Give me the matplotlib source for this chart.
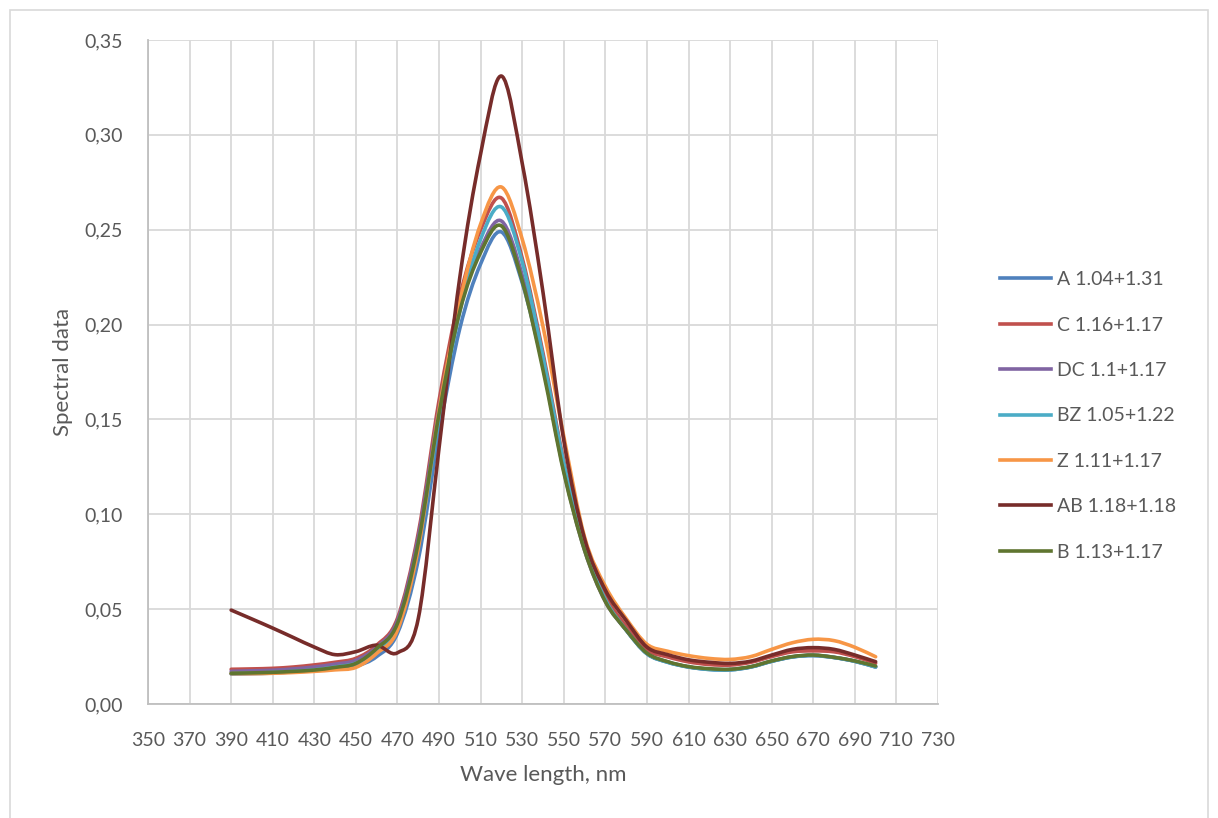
import matplotlib.pyplot as plt
import numpy as np
from matplotlib.path import Path
from matplotlib.patches import PathPatch, Rectangle
from matplotlib.lines import Line2D
from matplotlib.ticker import FuncFormatter

plt.rcParams['font.family'] = ['Lato', 'DejaVu Sans']

wavelength = list(range(390, 701, 10))

labels = ['A 1.04+1.31', 'C 1.16+1.17', 'DC 1.1+1.17', 'BZ 1.05+1.22',
          'Z 1.11+1.17', 'AB 1.18+1.18', 'B 1.13+1.17']
colors = ['#4F81BD', '#C0504D', '#8064A2', '#4BACC6', '#F79646', '#772C2A', '#5F7530']

a_vals = [0.0158, 0.0160, 0.0163, 0.0170, 0.0178, 0.0190, 0.0200, 0.0250, 0.0373, 0.076,
          0.143, 0.198, 0.232, 0.2488, 0.222, 0.178, 0.124, 0.082, 0.055, 0.039,
          0.0265, 0.0220, 0.0195, 0.0182, 0.0180, 0.0195, 0.0225, 0.0248, 0.0255, 0.0245,
          0.0225, 0.0195]
c_vals = [0.0183, 0.0185, 0.0188, 0.0195, 0.0206, 0.0220, 0.0241, 0.0310, 0.0452, 0.090,
          0.160, 0.215, 0.250, 0.2667, 0.235, 0.185, 0.128, 0.084, 0.057, 0.041,
          0.0285, 0.0248, 0.0222, 0.0208, 0.0205, 0.0220, 0.0250, 0.0275, 0.0280, 0.0275,
          0.0250, 0.0215]
dc_vals = [0.0172, 0.0175, 0.0178, 0.0185, 0.0195, 0.0210, 0.0230, 0.0300, 0.0440, 0.088,
           0.156, 0.209, 0.240, 0.2546, 0.226, 0.178, 0.123, 0.081, 0.054, 0.039,
           0.0266, 0.0222, 0.0196, 0.0184, 0.0182, 0.0196, 0.0226, 0.0249, 0.0257, 0.0246,
           0.0226, 0.0196]
bz_vals = [0.0160, 0.0163, 0.0166, 0.0172, 0.0180, 0.0195, 0.0215, 0.0280, 0.0410, 0.083,
           0.151, 0.207, 0.245, 0.2620, 0.233, 0.183, 0.127, 0.083, 0.055, 0.039,
           0.0265, 0.0220, 0.0195, 0.0182, 0.0180, 0.0195, 0.0225, 0.0248, 0.0256, 0.0245,
           0.0225, 0.0195]
z_vals = [0.0160, 0.0160, 0.0162, 0.0166, 0.0172, 0.0180, 0.0193, 0.0267, 0.0390, 0.082,
          0.155, 0.212, 0.253, 0.2725, 0.245, 0.199, 0.141, 0.088, 0.062, 0.045,
          0.0315, 0.0278, 0.0255, 0.0240, 0.0235, 0.0250, 0.0288, 0.0323, 0.0341, 0.0334,
          0.0299, 0.0249]
ab_vals = [0.0495, 0.0448, 0.0400, 0.0350, 0.0300, 0.0260, 0.0276, 0.0310, 0.0270, 0.045,
           0.135, 0.225, 0.290, 0.3310, 0.285, 0.217, 0.139, 0.087, 0.060, 0.044,
           0.0300, 0.0260, 0.0233, 0.0220, 0.0214, 0.0226, 0.0258, 0.0288, 0.0297, 0.0288,
           0.0258, 0.0223]
b_vals = [0.0162, 0.0164, 0.0167, 0.0172, 0.0179, 0.0193, 0.0214, 0.0293, 0.0425, 0.085,
          0.153, 0.207, 0.238, 0.2520, 0.223, 0.176, 0.122, 0.081, 0.054, 0.039,
          0.0268, 0.0223, 0.0197, 0.0186, 0.0183, 0.0197, 0.0227, 0.0250, 0.0258, 0.0246,
          0.0227, 0.0200]

series = [a_vals, c_vals, dc_vals, bz_vals, z_vals, ab_vals, b_vals]

x_ticks = list(range(350, 731, 20))
y_ticks = [0.0, 0.05, 0.10, 0.15, 0.20, 0.25, 0.30, 0.35]


def smooth_path(x, y):
    # Excel style smoothed line: bezier segments with catmull-rom tangents
    x = np.asarray(x, float)
    y = np.asarray(y, float)
    pts = np.column_stack([x, y])
    verts = [pts[0]]
    codes = [Path.MOVETO]
    n = len(pts)
    for i in range(n - 1):
        p0 = pts[i - 1] if i > 0 else pts[i]
        p3 = pts[i + 2] if i + 2 < n else pts[i + 1]
        c1 = pts[i] + (pts[i + 1] - p0) / 6
        c2 = pts[i + 1] - (p3 - pts[i]) / 6
        verts += [c1, c2, pts[i + 1]]
        codes += [Path.CURVE4] * 3
    return Path(verts, codes)


fig = plt.figure(figsize=(12.18, 8.18), dpi=100)
ax = fig.add_axes([148 / 1218, 1 - 704 / 818, 790 / 1218, 664 / 818])

fig.patches.append(Rectangle((10 / 1218, -0.01), 1198 / 1218, 1 - 10 / 818 + 0.01,
                             transform=fig.transFigure, fill=False,
                             edgecolor='#d9d9d9', linewidth=1.2))

for vals, col in zip(series, colors):
    ax.add_patch(PathPatch(smooth_path(wavelength, vals), fill=False,
                           edgecolor=col, linewidth=2.6, capstyle='round',
                           joinstyle='round'))

ax.set_xlim(350, 730)
ax.set_ylim(0, 0.35)
ax.set_xticks(x_ticks)
ax.set_yticks(y_ticks)
ax.yaxis.set_major_formatter(FuncFormatter(lambda v, p: '{:.2f}'.format(v).replace('.', ',')))
ax.grid(True, color='#d9d9d9', linewidth=1.3)
ax.set_axisbelow(True)
ax.tick_params(length=0, labelsize=14, colors='#595959')
ax.tick_params(axis='x', pad=20)
ax.tick_params(axis='y', pad=18)

for s in ['top', 'right']:
    ax.spines[s].set_visible(False)
for s in ['left', 'bottom']:
    ax.spines[s].set_color('#bfbfbf')
    ax.spines[s].set_linewidth(1.3)

ax.set_xlabel('Wave length, nm', fontsize=16, color='#595959', labelpad=12)
ax.set_ylabel('Spectral data', fontsize=16, color='#595959', labelpad=8)

handles = [Line2D([], [], color=c, linewidth=2.6) for c in colors]
fig.legend(handles, labels, loc='center left', bbox_to_anchor=(0.807, 0.4915),
           frameon=False, fontsize=14, handlelength=2.6, labelspacing=1.46,
           handletextpad=0.3, labelcolor='#595959')

fig.savefig('out.png', dpi=100)
